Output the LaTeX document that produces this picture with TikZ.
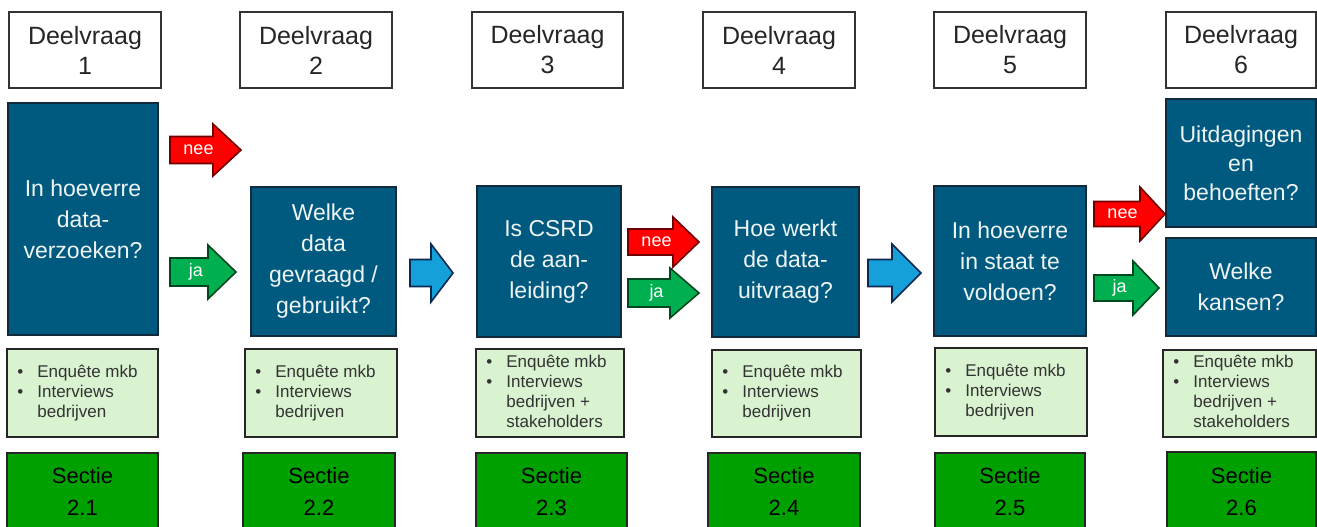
\documentclass[tikz,border=0pt]{standalone}
\usepackage{fontspec}
\setmainfont{Liberation Sans}
\definecolor{qblue}{RGB}{0,90,128}
\definecolor{qborder}{RGB}{18,42,60}
\definecolor{lgreen}{RGB}{217,242,208}
\definecolor{sgreen}{RGB}{0,160,0}
\definecolor{ared}{RGB}{255,0,0}
\definecolor{aredd}{RGB}{110,0,0}
\definecolor{agreen}{RGB}{0,176,80}
\definecolor{agreend}{RGB}{0,70,30}
\definecolor{ablue}{RGB}{22,160,218}
\definecolor{abluedd}{RGB}{10,40,80}
\definecolor{qtext}{RGB}{238,244,244}
% name, x1, y1, x2, y2, style, text
\newcommand\rbox[7]{%
  \node[#6, minimum width={(#4-#2)*0.5pt}, minimum height={(#5-#3)*0.5pt}]
    (#1) at ({(#2+#4)/2},{(#3+#5)/2}) {#7};}
% name, x1, y1, x2, y2, lines of the list
\newcommand\lbox[6]{%
  \node[listbox, minimum width={(#4-#2)*0.5pt}, minimum height={(#5-#3)*0.5pt}]
    (#1) at ({(#2+#4)/2},{(#3+#5)/2}) {};
  \node[listtext, anchor=west] (#1t) at ({#2+10},{(#3+#5)/2}) {%
    \begin{tabular}{@{}p{10pt}@{}l@{}}#6\end{tabular}};}
% name, x1, xbase, xtip, yc, shaft half, head half, style, label
\newcommand\barrow[9]{%
  \draw[#8] (#2,#5-#6) -- (#3,#5-#6) -- (#3,#5-#7) -- (#4,#5)
    -- (#3,#5+#7) -- (#3,#5+#6) -- (#2,#5+#6) -- cycle;
  \node[arrowlabel] (#1) at ({(#2+#4)/2-7},#5) {#9};}
\begin{document}
\begin{tikzpicture}[x=0.5pt,y=-0.5pt,
  dvbox/.style={draw=black!80, line width=0.75pt, fill=white, inner sep=0pt,
    align=center, font=\fontsize{12.5}{15}\selectfont, text=black!85},
  qbox/.style={draw=qborder, line width=0.8pt, fill=qblue, inner sep=0pt,
    align=center, font=\fontsize{11.5}{15.5}\selectfont, text=qtext},
  listbox/.style={draw=black!85, line width=1pt, fill=lgreen, inner sep=0pt},
  listtext/.style={inner sep=0pt, font=\fontsize{8.5}{10}\selectfont, text=black!80},
  secbox/.style={draw=black!85, line width=1pt, fill=sgreen, inner sep=0pt,
    align=center, font=\fontsize{11}{16}\selectfont, text=black},
  redarrow/.style={fill=ared, draw=aredd, line width=0.8pt, line join=miter},
  greenarrow/.style={fill=agreen, draw=agreend, line width=0.8pt, line join=miter},
  bluearrow/.style={fill=ablue, draw=abluedd, line width=0.8pt, line join=miter},
  arrowlabel/.style={inner sep=0pt, text=white, font=\fontsize{9}{10}\selectfont}]
\useasboundingbox (0,0) rectangle (1317,526);
\clip (0,0) rectangle (1317,526);

% Deelvraag headers
\rbox{d1}{9}{12}{161}{88}{dvbox}{Deelvraag\\1}
\rbox{d2}{240}{12}{392}{88}{dvbox}{Deelvraag\\2}
\rbox{d3}{472}{12}{623}{88}{dvbox}{Deelvraag\\3}
\rbox{d4}{703}{12}{855}{88}{dvbox}{Deelvraag\\4}
\rbox{d5}{934}{12}{1086}{88}{dvbox}{Deelvraag\\5}
\rbox{d6}{1166}{12}{1316}{88}{dvbox}{Deelvraag\\6}

% question boxes
\rbox{q1}{8}{103}{158}{335}{qbox}{In hoeverre\\data-\\verzoeken?}
\rbox{q2}{251}{187}{396}{336}{qbox}{Welke\\data\\gevraagd /\\gebruikt?}
\rbox{q3}{477}{186}{621}{337}{qbox}{Is CSRD\\de aan-\\leiding?}
\rbox{q4}{712}{187}{859}{337}{qbox}{Hoe werkt\\de data-\\uitvraag?}
\rbox{q5}{934}{186}{1086}{336}{qbox}{In hoeverre\\in staat te\\voldoen?}
\rbox{q6a}{1166}{99}{1316}{227}{qbox,font=\fontsize{11.5}{14.5}\selectfont}{Uitdagingen\\en\\behoeften?}
\rbox{q6b}{1166}{238}{1316}{336}{qbox}{Welke\\kansen?}

% arrows
\barrow{n1}{170}{213}{241}{150}{13.5}{26}{redarrow}{nee}
\barrow{j1}{170}{208}{236}{272}{14}{27}{greenarrow}{ja}
\barrow{a1}{410}{431}{453}{273}{13.5}{29}{bluearrow}{}
\barrow{n2}{628}{673}{699}{242}{13}{25}{redarrow}{nee}
\barrow{j2}{628}{670}{699}{293}{14}{25}{greenarrow}{ja}
\barrow{a2}{868}{892}{921}{273}{13.5}{29}{bluearrow}{}
\barrow{n3}{1094}{1140}{1165}{214}{12.5}{27}{redarrow}{nee}
\barrow{j3}{1094}{1133}{1159}{288}{13}{27}{greenarrow}{ja}

% method boxes
\lbox{b1}{7}{349}{158}{437}{\textbullet & Enquête mkb\\ \textbullet & Interviews\\ & bedrijven}
\lbox{b2}{245}{349}{397}{437}{\textbullet & Enquête mkb\\ \textbullet & Interviews\\ & bedrijven}
\lbox{b3}{476}{349}{624}{437}{\textbullet & Enquête mkb\\ \textbullet & Interviews\\ & bedrijven +\\ & stakeholders}
\lbox{b4}{712}{350}{861}{437}{\textbullet & Enquête mkb\\ \textbullet & Interviews\\ & bedrijven}
\lbox{b5}{935}{348}{1087}{436}{\textbullet & Enquête mkb\\ \textbullet & Interviews\\ & bedrijven}
\lbox{b6}{1163}{350}{1316}{437}{\textbullet & Enquête mkb\\ \textbullet & Interviews\\ & bedrijven +\\ & stakeholders}

% section boxes
\rbox{s1}{7}{453}{158}{531}{secbox}{Sectie\\2.1}
\rbox{s2}{243}{453}{395}{531}{secbox}{Sectie\\2.2}
\rbox{s3}{476}{453}{627}{531}{secbox}{Sectie\\2.3}
\rbox{s4}{708}{453}{860}{531}{secbox}{Sectie\\2.4}
\rbox{s5}{935}{453}{1085}{531}{secbox}{Sectie\\2.5}
\rbox{s6}{1167}{452}{1316}{531}{secbox}{Sectie\\2.6}
\end{tikzpicture}
\end{document}
